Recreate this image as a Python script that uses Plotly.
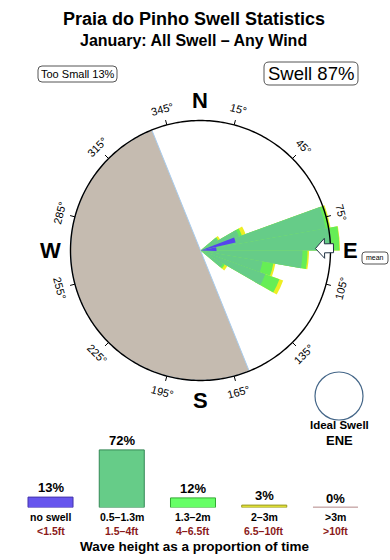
import math
import plotly.graph_objects as go

W, H = 390, 560

# ---------------- data ----------------
title = "Praia do Pinho Swell Statistics"
subtitle = "January: All Swell – Any Wind"
too_small_label = "Too Small 13%"
swell_label = "Swell 87%"

# rose: direction bins (deg) and cumulative radii per height class
dir_centers = [55, 65, 75, 85, 95, 105, 115, 125]
green_r = [19.5, 41, 127, 131, 102, 63, 69, 26]      # 0.5-1.3m
lgreen_r = [20.5, 44, 131, 139, 107, 74, 84, 28]     # 1.3-2m
yellow_r = [22.5, 48, 132, 139.5, 108.5, 76, 88, 31]  # 2-3m
blue_dirs = [73, 85]
blue_r = [36, 16]
land_center = 248
land_width = 180
mean_dir = 89
ideal_label = "ENE"

tick_angles = [15, 45, 75, 105, 135, 165, 195, 225, 255, 285, 315, 345]
tick_labels = [f"{a}°" for a in tick_angles]
cardinals = ["N", "E", "S", "W"]
cardinal_angles = [0, 90, 180, 270]

# bottom bar chart
cats = ["no swell", "0.5–1.3m", "1.3–2m", "2–3m", ">3m"]
cats_ft = ["<1.5ft", "1.5–4ft", "4–6.5ft", "6.5–10ft", ">10ft"]
pcts = [13, 72, 12, 3, 0]
bar_fill = ["#6655EE", "#66CC88", "#66FF66", "#DDDD33", "#D8B8B8"]
bar_line = ["#4433AA", "#338855", "#33AA33", "#999922", "#C8A8A8"]

# ---------------- helpers ----------------
FONT = "Liberation Sans, Arial, sans-serif"
CX, CY = 200.5, 250.5
RING = 130
RMAX = 145


def px(x):
    return x / W


def py(y):
    return 1 - y / H


def polar_pt(bearing, r):
    t = math.radians(bearing)
    return CX + r * math.sin(t), CY - r * math.cos(t)


def rrect(x0, y0, x1, y1, r):
    pts = (
        f"M{px(x0 + r)},{py(y0)} L{px(x1 - r)},{py(y0)} Q{px(x1)},{py(y0)} {px(x1)},{py(y0 + r)} "
        f"L{px(x1)},{py(y1 - r)} Q{px(x1)},{py(y1)} {px(x1 - r)},{py(y1)} "
        f"L{px(x0 + r)},{py(y1)} Q{px(x0)},{py(y1)} {px(x0)},{py(y1 - r)} "
        f"L{px(x0)},{py(y0 + r)} Q{px(x0)},{py(y0)} {px(x0 + r)},{py(y0)} Z"
    )
    return dict(type="path", path=pts, xref="paper", yref="paper",
                line=dict(color="#555555", width=1), fillcolor="rgba(0,0,0,0)")


def label(text, x, y, size, color="black", angle=0, xref="paper", yref="paper"):
    return dict(text=text, x=x, y=y, xref=xref, yref=yref, showarrow=False,
                xanchor="center", yanchor="middle", textangle=angle, borderpad=0,
                font=dict(family=FONT, size=size, color=color))


fig = go.Figure()

# land
fig.add_trace(go.Barpolar(r=[RING], theta=[land_center], width=[land_width],
                          marker=dict(color="#C5BBB0", line=dict(color="#A8CCEE", width=1)),
                          hoverinfo="skip"))
# rose (overlay, largest first)
fig.add_trace(go.Barpolar(r=yellow_r, theta=dir_centers, width=[10] * len(dir_centers),
                          marker=dict(color="#EEEE22", line=dict(width=0)), hoverinfo="skip"))
fig.add_trace(go.Barpolar(r=lgreen_r, theta=dir_centers, width=[10] * len(dir_centers),
                          marker=dict(color="#66EE55", line=dict(width=0)), hoverinfo="skip"))
fig.add_trace(go.Barpolar(r=green_r, theta=dir_centers, width=[10] * len(dir_centers),
                          marker=dict(color="#66CC88", line=dict(width=0)), hoverinfo="skip"))
fig.add_trace(go.Barpolar(r=blue_r, theta=blue_dirs, width=[8, 14],
                          marker=dict(color="#5544EE", line=dict(width=0)), hoverinfo="skip"))
# ring
ring_th = list(range(0, 361))
fig.add_trace(go.Scatterpolar(r=[RING] * len(ring_th), theta=ring_th, mode="lines",
                              line=dict(color="black", width=1.4), hoverinfo="skip"))
# ticks
tr, tt = [], []
for a in tick_angles:
    tr += [RING, RING + 5, None]
    tt += [a, a, None]
fig.add_trace(go.Scatterpolar(r=tr, theta=tt, mode="lines",
                              line=dict(color="black", width=1), hoverinfo="skip"))

# bottom bars
fig.add_trace(go.Bar(x=list(range(len(cats))), y=pcts, width=0.632,
                     marker=dict(color=bar_fill, line=dict(color=bar_line, width=1)),
                     xaxis="x", yaxis="y", hoverinfo="skip"))

annotations = []
shapes = []

annotations.append(label(f"<b>{title}</b>", px(194), py(19), 18))
annotations.append(label(f"<b>{subtitle}</b>", px(193), py(40.5), 16))
annotations.append(label(too_small_label, px(77.5), py(74), 11))
shapes.append(rrect(38, 66, 117, 82, 4))
annotations.append(label(swell_label, px(311), py(73.5), 18.5))
shapes.append(rrect(264, 62, 358, 85, 5))

# degree labels
for a, lab in zip(tick_angles, tick_labels):
    x, y = polar_pt(a, 146)
    ang = ((a + 90) % 180) - 90
    annotations.append(label(lab, px(x), py(y), 11, angle=ang))
# cardinals
for c, a in zip(cardinals, cardinal_angles):
    x, y = polar_pt(a, 150)
    annotations.append(label(f"<b>{c}</b>", px(x), py(y), 22))

# mean arrow
t = math.radians(mean_dir)
ux, uy = math.sin(t), -math.cos(t)
vx, vy = math.cos(t), math.sin(t)
loc = [(115, 0), (124, 10), (124, 4.5), (133, 4.5), (133, -4.5), (124, -4.5), (124, -10)]
pts = [(CX + r * ux + w * vx, CY + r * uy + w * vy) for r, w in loc]
path = "M" + " L".join(f"{px(x)},{py(y)}" for x, y in pts) + " Z"
shapes.append(dict(type="path", path=path, xref="paper", yref="paper",
                   line=dict(color="#223344", width=1), fillcolor="white"))
annotations.append(label("mean", px(375), py(258), 7))
shapes.append(rrect(362, 252, 388, 264, 3))

# ideal swell
shapes.append(dict(type="circle", xref="paper", yref="paper", x0=px(315), x1=px(363),
                   y0=py(372), y1=py(420), line=dict(color="#446688", width=1.2)))
annotations.append(label("<b>Ideal Swell</b>", px(339), py(425), 11.5))
annotations.append(label(f"<b>{ideal_label}</b>", px(339), py(440), 13))

# bar labels
for i, (c, f, p) in enumerate(zip(cats, cats_ft, pcts)):
    a = label(f"<b>{p}%</b>", i, p, 13, xref="x", yref="y")
    a["yanchor"] = "bottom"
    a["yshift"] = 1
    annotations.append(a)
    annotations.append(label(f"<b>{c}</b>", i, py(517), 10.5, xref="x"))
    annotations.append(label(f"<b>{f}</b>", i, py(530.5), 10.5, color="#8B1A1A", xref="x"))
    if p == 0:
        shapes.append(dict(type="line", xref="x", yref="y", x0=i - 0.316, x1=i + 0.316, y0=0, y1=0,
                           line=dict(color=bar_line[i], width=2)))
annotations.append(label("<b>Wave height as a proportion of time</b>", px(195), py(546), 13.5))

fig.update_layout(
    width=W, height=H, margin=dict(l=0, r=0, t=0, b=0),
    paper_bgcolor="white", plot_bgcolor="rgba(0,0,0,0)", showlegend=False,
    polar=dict(
        domain=dict(x=[px(CX - RMAX), px(CX + RMAX)], y=[py(CY + RMAX), py(CY - RMAX)]),
        bgcolor="rgba(0,0,0,0)", barmode="overlay",
        radialaxis=dict(range=[0, RMAX], visible=False),
        angularaxis=dict(rotation=90, direction="clockwise", showline=False, showgrid=False,
                         showticklabels=False, ticks=""),
    ),
    xaxis=dict(domain=[px(14.9), px(371.1)], range=[-0.5, 4.5], visible=False, fixedrange=True),
    yaxis=dict(domain=[py(507.5), py(427.5)], range=[0, 100], visible=False, fixedrange=True),
    annotations=annotations, shapes=shapes, hovermode=False,
)

fig.write_html("out.html", config={"displayModeBar": False})
